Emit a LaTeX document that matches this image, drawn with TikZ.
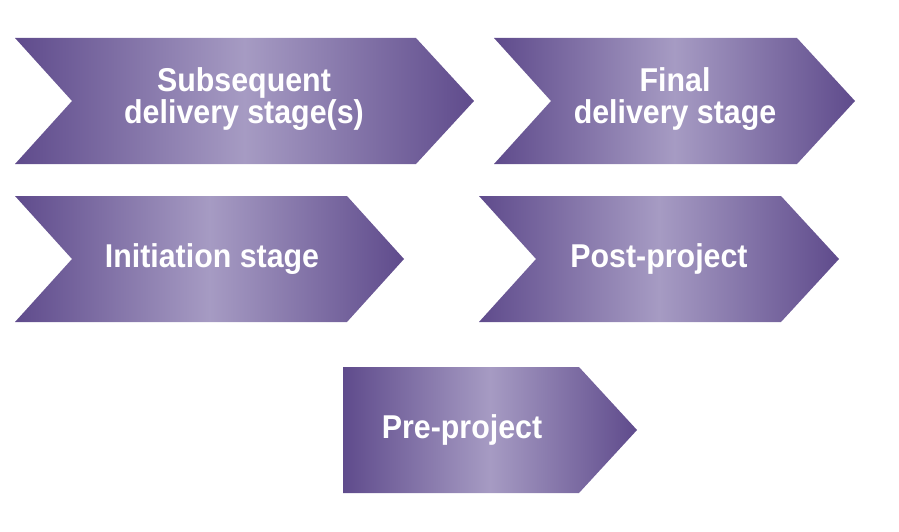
\documentclass[tikz,border=0pt]{standalone}
\usepackage{fontspec}
\newfontfamily\lblfont{Liberation Sans}[FakeStretch=0.92]
\definecolor{dk}{RGB}{95,75,140}
\definecolor{lt}{RGB}{166,155,195}
\begin{document}
\begin{tikzpicture}[x=1pt,y=-1pt]
\tikzset{
  stagefill/.style={left color=dk, right color=dk, middle color=lt, draw=none},
  stagetext/.style={text=white, font=\lblfont\bfseries\fontsize{33}{32}\selectfont, align=center, inner sep=0pt}
}
\useasboundingbox (0,0) rectangle (899,532);
% Subsequent delivery stage(s)
\shade[stagefill] (15,38) -- (416,38) -- (474,101) -- (416,164) -- (15,164) -- (72,101) -- cycle;
% Final delivery stage
\shade[stagefill] (494,38) -- (797,38) -- (855,101) -- (797,164) -- (494,164) -- (551,101) -- cycle;
% Initiation stage
\shade[stagefill] (15,196) -- (347,196) -- (404,259) -- (347,322) -- (15,322) -- (72,259) -- cycle;
% Post-project
\shade[stagefill] (479,196) -- (781,196) -- (839,259) -- (781,322) -- (479,322) -- (536,259) -- cycle;
% Pre-project
\shade[stagefill] (343,367) -- (579,367) -- (637,430) -- (579,493) -- (343,493) -- cycle;
\node[stagetext] (subseq) at (244,99) {Subsequent\\delivery stage(s)};
\node[stagetext] (final) at (675,99) {Final\\delivery stage};
\node[stagetext] (init) at (212,259) {Initiation stage};
\node[stagetext] (post) at (659,259) {Post-project};
\node[stagetext] (pre) at (462,430) {Pre-project};
\end{tikzpicture}
\end{document}
